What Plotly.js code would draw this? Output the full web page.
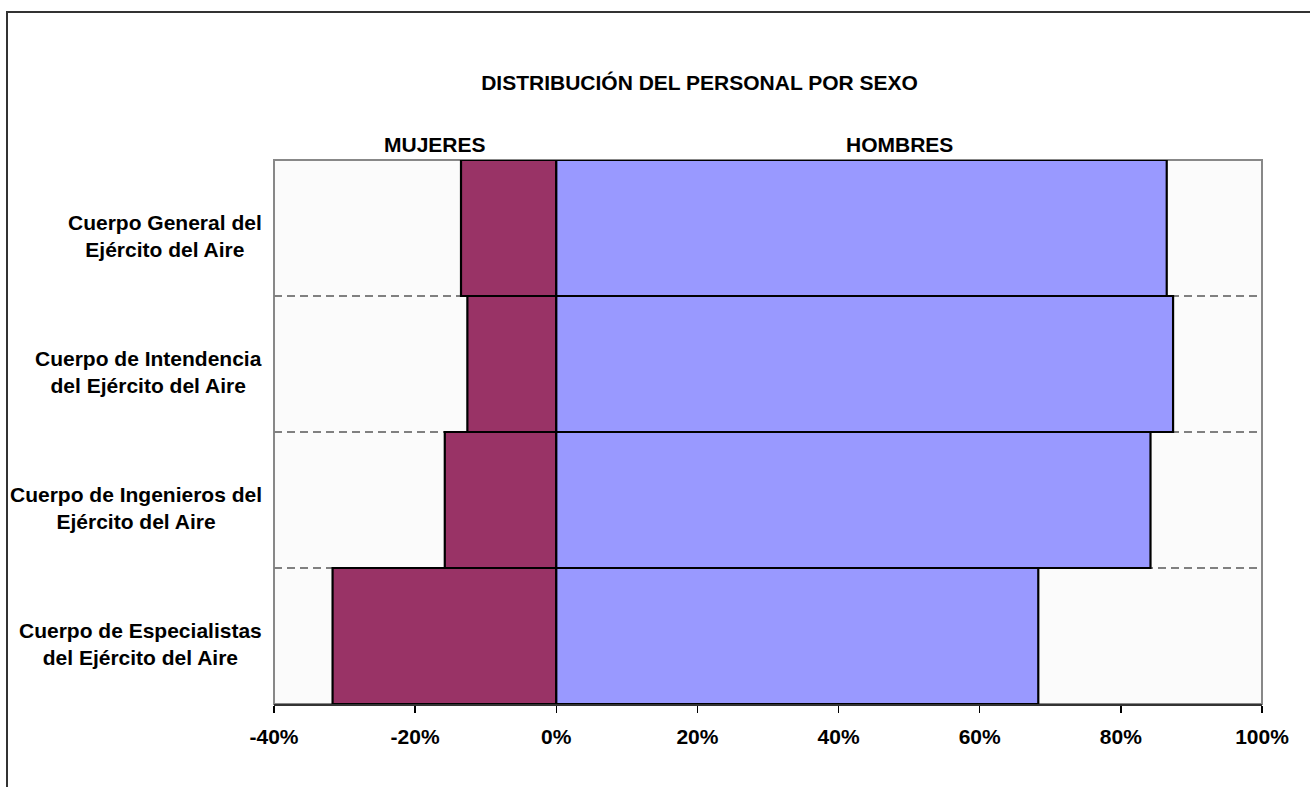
<!DOCTYPE html>
<html>
<head>
<meta charset="utf-8">
<script src="https://cdn.plot.ly/plotly-3.0.1.min.js"></script>
<style>
html,body{margin:0;padding:0;background:#fff;overflow:hidden;}
#chart{width:1310px;height:787px;position:absolute;left:0;top:0;}
#frame{position:absolute;left:6px;top:11px;width:1400px;height:900px;border:2px solid #333;pointer-events:none;}
</style>
</head>
<body>
<div id="chart"></div>
<div id="frame"></div>
<script>
const categories = [
  "Cuerpo General del<br>Ejército del Aire",
  "Cuerpo de Intendencia<br>del Ejército del Aire",
  "Cuerpo de Ingenieros del<br>Ejército del Aire",
  "Cuerpo de Especialistas<br>del Ejército del Aire"
];
const mujeres = [-0.135, -0.126, -0.158, -0.317];
const hombres = [0.865, 0.874, 0.842, 0.683];
const xTicks = [-0.4, -0.2, 0, 0.2, 0.4, 0.6, 0.8, 1.0];
const xTickLabels = ["-40%", "-20%", "0%", "20%", "40%", "60%", "80%", "100%"];
const seriesNames = ["MUJERES", "HOMBRES"];
const titleText = "DISTRIBUCIÓN DEL PERSONAL POR SEXO";

const FONT = "Liberation Sans, Arial, sans-serif";

const traces = [
  {type: 'bar', orientation: 'h', name: seriesNames[0], y: categories, x: mujeres,
   marker: {color: '#993366', line: {color: '#000', width: 2.2}}},
  {type: 'bar', orientation: 'h', name: seriesNames[1], y: categories, x: hombres,
   marker: {color: '#9999FF', line: {color: '#000', width: 2.2}}}
];

const annotations = categories.map(c => ({
  xref: 'paper', yref: 'y', x: 0, y: c, xanchor: 'right', yanchor: 'middle',
  xshift: -10, yshift: -8, text: '<b>' + c + '</b>', showarrow: false, align: 'center',
  font: {family: FONT, size: 21, color: '#000'}
}));
annotations.push({
  xref: 'x', yref: 'paper', x: -0.172, y: 1, yanchor: 'bottom', yshift: 2,
  text: '<b>' + seriesNames[0] + '</b>', showarrow: false,
  font: {family: FONT, size: 21, color: '#000'}
});
annotations.push({
  xref: 'x', yref: 'paper', x: 0.486, y: 1, yanchor: 'bottom', yshift: 2,
  text: '<b>' + seriesNames[1] + '</b>', showarrow: false,
  font: {family: FONT, size: 21, color: '#000'}
});

const layout = {
  width: 1310, height: 787,
  margin: {l: 274, r: 48, t: 160, b: 83},
  paper_bgcolor: 'rgba(0,0,0,0)',
  plot_bgcolor: '#fbfbfb',
  barmode: 'relative',
  bargap: 0,
  showlegend: false,
  title: {text: '<b>' + titleText + '</b>', x: 0.534, xanchor: 'center', y: 0.895, yanchor: 'middle',
          font: {family: FONT, size: 21, color: '#000'}},
  xaxis: {
    range: [-0.4, 1.0], tickvals: xTicks, ticktext: xTickLabels.map(t => '<b>' + t + '</b>'),
    showgrid: false, zeroline: false,
    showline: true, linecolor: '#333', linewidth: 2,
    ticks: 'outside', ticklen: 7, tickwidth: 1.5, tickcolor: '#000',
    tickfont: {family: FONT, size: 21, color: '#000'},
    ticklabelstandoff: 6,
    fixedrange: true
  },
  yaxis: {
    type: 'category', autorange: 'reversed',
    tickson: 'boundaries', showgrid: true, gridcolor: '#808080', gridwidth: 1.5,
    griddash: '8px,5px',
    showticklabels: false, ticks: '', zeroline: false, showline: false,
    fixedrange: true
  },
  shapes: [
    {type: 'rect', xref: 'paper', yref: 'paper', x0: 0, x1: 1, y0: 0, y1: 1,
     line: {color: '#888', width: 2}, layer: 'below'}
  ],
  annotations: annotations,
  font: {family: FONT}
};

Plotly.newPlot('chart', traces, layout, {displayModeBar: false, staticPlot: true});
</script>
</body>
</html>
